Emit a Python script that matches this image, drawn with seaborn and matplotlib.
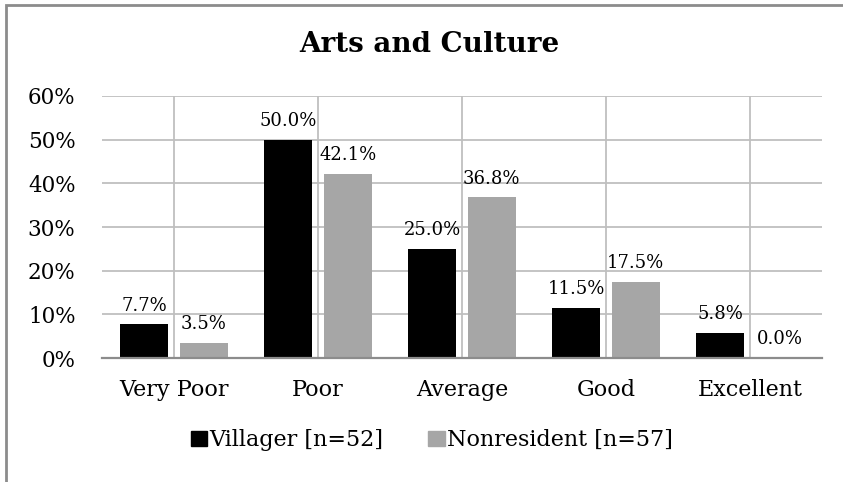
#Visualizaciones
import matplotlib
matplotlib.use('Agg')
import matplotlib.pyplot as plt
import matplotlib.patches as mpatches
import seaborn as sns

#Tratamiento de datos
import pandas as pd

# Datos
categorias = ['Very Poor', 'Poor', 'Average', 'Good', 'Excellent']
villager = [7.7, 50.0, 25.0, 11.5, 5.8]
nonresident = [3.5, 42.1, 36.8, 17.5, 0.0]
grupos = ['Villager [n=52]', 'Nonresident [n=57]']
y_ticks = [0, 10, 20, 30, 40, 50, 60]

df = pd.DataFrame({
    'categoria': categorias * 2,
    'grupo': [grupos[0]] * len(categorias) + [grupos[1]] * len(categorias),
    'valor': villager + nonresident,
})

sns.set_theme(style='white')
plt.rcParams['font.family'] = ['DejaVu Serif', 'Liberation Serif']
plt.rcParams['text.color'] = 'black'
plt.rcParams['xtick.color'] = 'black'
plt.rcParams['ytick.color'] = 'black'

fig = plt.figure(figsize=(8.43, 4.82), dpi=100)
ax = fig.add_axes([0.121, 0.257, 0.854, 0.544])

sns.barplot(
    data=df,
    x='categoria',
    y='valor',
    hue='grupo',
    order=categorias,
    hue_order=grupos,
    palette=['#000000', '#A6A6A6'],
    width=0.83,
    gap=0.2,
    saturation=1,
    linewidth=0,
    legend=False,
    ax=ax
)

# Etiquetas de valores
for cont in ax.containers:
    ax.bar_label(cont, fmt='%.1f%%', padding=7, fontsize=13, color='black')

ax.set_ylim(0, 60)
ax.set_yticks(y_ticks)
ax.set_yticklabels([f'{t}%' for t in y_ticks])
ax.set_xlim(-0.5, len(categorias) - 0.5)
ax.set_xlabel('')
ax.set_ylabel('')
ax.tick_params(axis='both', length=0)
ax.tick_params(axis='x', pad=15, labelsize=16)
ax.tick_params(axis='y', pad=19, labelsize=15.5)

ax.set_axisbelow(True)
ax.grid(axis='both', color='#BFBFBF', linewidth=1.3)
for s in ['top', 'right', 'left']:
    ax.spines[s].set_visible(False)
ax.spines['bottom'].set_color('#8C8C8C')
ax.spines['bottom'].set_linewidth(1.6)

fig.text(0.509, 0.907, 'Arts and Culture', ha='center', va='center',
         fontsize=20, fontweight='bold')

handles = [mpatches.Patch(color='#000000', label=grupos[0]),
           mpatches.Patch(color='#A6A6A6', label=grupos[1])]
fig.legend(handles=handles, loc='center', bbox_to_anchor=(0.512, 0.087),
           ncol=2, frameon=False, fontsize=16, handlelength=0.75,
           handleheight=0.7, handletextpad=0.1, columnspacing=2.0)

# Marco exterior
fig.patches.append(mpatches.Rectangle((6 / 843, -0.05), 1.0, 1.05 - 5 / 482,
                                      transform=fig.transFigure, fill=False,
                                      edgecolor='#8C8C8C', linewidth=2))

fig.savefig('out.png', dpi=100)
